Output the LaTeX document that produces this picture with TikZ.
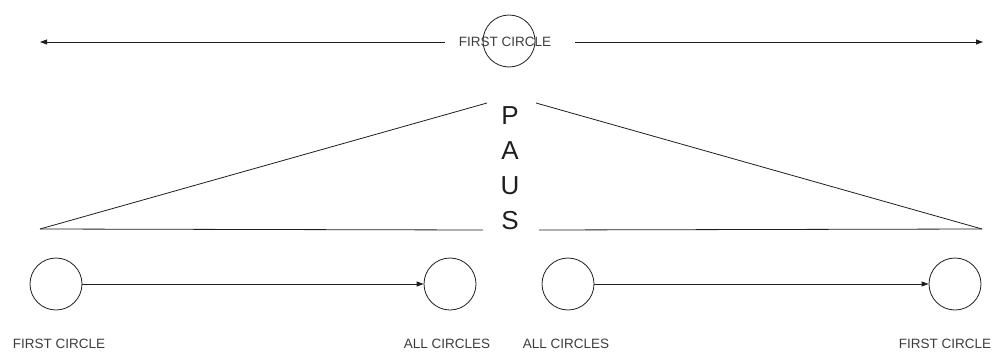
\documentclass[tikz,border=0pt]{standalone}
\usepackage{fontspec}
\setmainfont{Liberation Sans}
\usepackage{xcolor}
\definecolor{lnblack}{RGB}{30,30,30}
\definecolor{lblgray}{RGB}{60,60,60}
\usetikzlibrary{arrows.meta,positioning,calc}

\begin{document}
\begin{tikzpicture}[x=1pt, y=-1pt,
  ring/.style={circle, draw=lnblack, line width=0.8pt, minimum size=52pt, inner sep=0pt},
  lbl/.style={font=\fontsize{13.5}{15}\selectfont, text=lblgray, inner sep=0pt},
  bigtxt/.style={font=\fontsize{26}{35}\selectfont, align=center, text=lnblack, inner sep=0pt},
  ln/.style={draw=lnblack, line width=0.8pt},
  arr/.style={-{Triangle[length=7pt,width=5pt]}, draw=lnblack, line width=0.8pt}
]
\useasboundingbox (0,0) rectangle (1001,351);

% Top circle and label
\node[ring] (topring) at (509,41) {};
\node[lbl] (toplbl) at (505,42) {FIRST CIRCLE};
\coordinate (farleft)  at (40,42);
\coordinate (farright) at (983,42);

% Top arrows
\draw[arr] ([xshift=-14pt]toplbl.west) -- (farleft);
\draw[arr] ([xshift=24pt]toplbl.east) -- (farright);

% Stacked letters
\node[bigtxt] (paus) at (510,168) {P\\A\\U\\S};

% Triangle outline
\coordinate (apexL) at (487,103);
\coordinate (apexR) at (536,103);
\coordinate (baseL) at (40,229);
\coordinate (baseR) at (982,229);
\coordinate (sideL) at (483,230);
\coordinate (sideR) at (539,230);
\draw[ln] (baseL) -- (apexL);
\draw[ln] (apexR) -- (baseR);
\draw[ln] (baseL) -- (sideL);
\draw[ln] (sideR) -- (baseR);

% Bottom circles
\node[ring] (c1) at (56,284)  {};
\node[ring] (c2) at (450,284) {};
\node[ring] (c3) at (568,284) {};
\node[ring] (c4) at (955,284) {};

% Bottom arrows
\draw[arr] (c1.east) -- (c2.west);
\draw[arr] (c3.east) -- (c4.west);

% Bottom labels
\node[lbl] (l1) at (59,344)  {FIRST CIRCLE};
\node[lbl] (l2) at (447,344) {ALL CIRCLES};
\node[lbl] (l3) at (566,344) {ALL CIRCLES};
\node[lbl] (l4) at (945,344) {FIRST CIRCLE};
\end{tikzpicture}
\end{document}
